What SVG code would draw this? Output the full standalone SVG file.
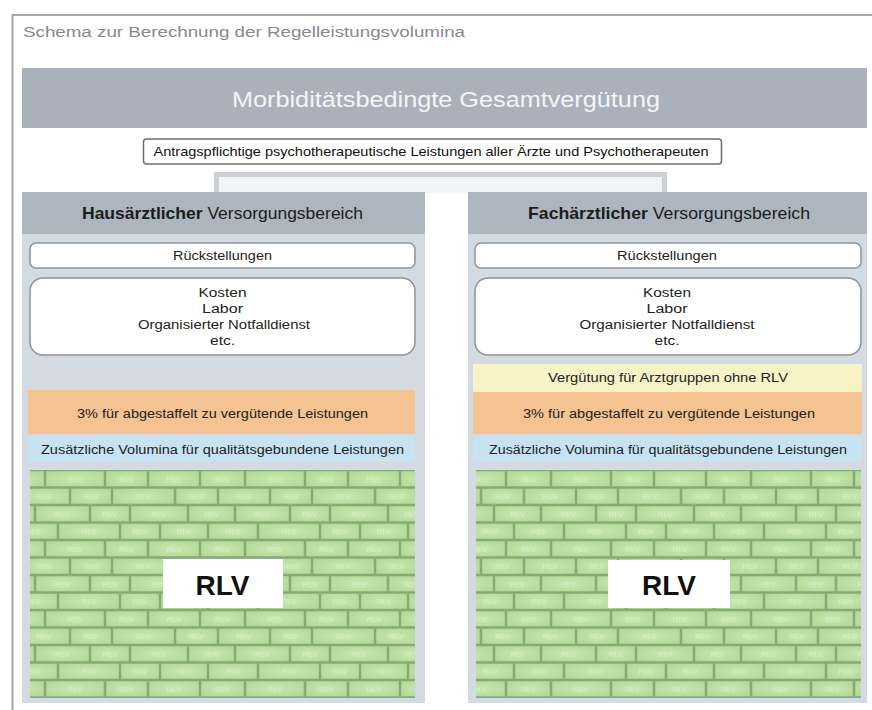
<svg xmlns="http://www.w3.org/2000/svg" xmlns:xlink="http://www.w3.org/1999/xlink" width="872" height="710" viewBox="0 0 872 710">
<style>
text { font-family: "Liberation Sans", Arial, sans-serif; }
.c { text-anchor: middle; }
.s { font-size: 12px; fill: #222; }
.hdr { font-size: 17px; fill: #1c1c1c; }
.body { fill: #d4dae1; }
.head { fill: #adb5be; }
.wbox { fill: #ffffff; stroke: #8e949b; stroke-width: 1.5; }
.orange { fill: #f5c291; }
.blue { fill: #c6e3f1; }
.yellow { fill: #f7f3c6; }
.mortar { fill: #86ab77; }
.bk { fill: url(#brickGrad); }
.bt { font-size: 8px; fill: #d7efc7; text-anchor: middle; }
.rlv { font-size: 28px; font-weight: bold; fill: #111; text-anchor: middle; }
</style>
<defs>
<radialGradient id="brickGrad" cx="0.5" cy="0.5" r="0.65">
<stop offset="0" stop-color="#c8e8b1"/>
<stop offset="1" stop-color="#b2d996"/>
</radialGradient>
<g id="tile">
<rect class="bk" x="16.25" y="1.25" width="57.5" height="15"/>
<rect class="bk" x="76.25" y="1.25" width="40.5" height="15"/>
<rect class="bk" x="119.25" y="1.25" width="49.5" height="15"/>
<rect class="bk" x="171.25" y="1.25" width="42.5" height="15"/>
<rect class="bk" x="-28.75" y="1.25" width="42.5" height="15"/>
<text class="bt" x="45" y="11.8">RLV</text>
<text class="bt" x="96.5" y="11.8">RLV</text>
<text class="bt" x="144" y="11.8">RLV</text>
<text class="bt" x="192.5" y="11.8">RLV</text>
<text class="bt" x="-7.5" y="11.8">RLV</text>
<rect class="bk" x="41.25" y="18.75" width="39.5" height="15"/>
<rect class="bk" x="83.25" y="18.75" width="60.5" height="15"/>
<rect class="bk" x="146.25" y="18.75" width="40.5" height="15"/>
<rect class="bk" x="189.25" y="18.75" width="49.5" height="15"/>
<rect class="bk" x="-10.75" y="18.75" width="49.5" height="15"/>
<text class="bt" x="61" y="29.3">RLV</text>
<text class="bt" x="113.5" y="29.3">RLV</text>
<text class="bt" x="166.5" y="29.3">RLV</text>
<text class="bt" x="214" y="29.3">RLV</text>
<text class="bt" x="14" y="29.3">RLV</text>
<rect class="bk" x="6.25" y="36.25" width="52.5" height="15"/>
<rect class="bk" x="61.25" y="36.25" width="37.5" height="15"/>
<rect class="bk" x="101.25" y="36.25" width="55.5" height="15"/>
<rect class="bk" x="159.25" y="36.25" width="44.5" height="15"/>
<rect class="bk" x="-40.75" y="36.25" width="44.5" height="15"/>
<text class="bt" x="32.5" y="46.8">RLV</text>
<text class="bt" x="80" y="46.8">RLV</text>
<text class="bt" x="129" y="46.8">RLV</text>
<text class="bt" x="181.5" y="46.8">RLV</text>
<text class="bt" x="-18.5" y="46.8">RLV</text>
<rect class="bk" x="29.25" y="53.75" width="59.5" height="15"/>
<rect class="bk" x="91.25" y="53.75" width="37.5" height="15"/>
<rect class="bk" x="131.25" y="53.75" width="45.5" height="15"/>
<rect class="bk" x="179.25" y="53.75" width="47.5" height="15"/>
<rect class="bk" x="-20.75" y="53.75" width="47.5" height="15"/>
<text class="bt" x="59" y="64.3">RLV</text>
<text class="bt" x="110" y="64.3">RLV</text>
<text class="bt" x="154" y="64.3">RLV</text>
<text class="bt" x="203" y="64.3">RLV</text>
<text class="bt" x="3" y="64.3">RLV</text>
</g>
<pattern id="bricksL" patternUnits="userSpaceOnUse" x="30" y="470" width="200" height="70">
<use href="#tile"/>
</pattern>
<pattern id="bricksR" patternUnits="userSpaceOnUse" x="536" y="470" width="200" height="70">
<use href="#tile"/>
</pattern>
</defs>

<rect x="0" y="0" width="872" height="710" fill="#ffffff"/>

<g id="frame">
<path d="M12.5 710 V15 H872" fill="none" stroke="#aca6a1" stroke-width="2"/>
<text x="23" y="37" font-size="14" fill="#868a90" textLength="442" lengthAdjust="spacingAndGlyphs">Schema zur Berechnung der Regelleistungsvolumina</text>
</g>

<g id="gesamtverguetung">
<rect x="22" y="68" width="845" height="60" fill="#aab1bb"/>
<text class="c" x="446" y="107" font-size="22" fill="#f3f5f7" textLength="428" lengthAdjust="spacingAndGlyphs">Morbiditätsbedingte Gesamtvergütung</text>
</g>

<g id="connectors">
<rect x="219" y="176" width="443" height="17" fill="#f2f3f5"/>
<path d="M216.5 193 V174.5 H664.5 V193" fill="none" stroke="#ccd0d5" stroke-width="5"/>
</g>

<g id="antrag">
<rect x="143.5" y="139" width="578" height="25" rx="3" fill="#ffffff" stroke="#6d6d6d" stroke-width="1.5"/>
<text class="c" x="431" y="156" font-size="13" fill="#111" textLength="555" lengthAdjust="spacingAndGlyphs">Antragspflichtige psychotherapeutische Leistungen aller Ärzte und Psychotherapeuten</text>
</g>

<g id="hausaerztlich">
<rect class="body" x="22" y="192" width="403" height="511"/>
<rect class="head" x="22" y="192" width="403" height="42"/>
<text class="c hdr" x="222.5" y="219" textLength="281" lengthAdjust="spacingAndGlyphs"><tspan font-weight="bold">Hausärztlicher</tspan> Versorgungsbereich</text>
</g>
<g id="haus-rueckstellungen">
<rect class="wbox" x="30" y="243" width="385" height="25" rx="6"/>
<text class="c s" x="222.5" y="260" textLength="99" lengthAdjust="spacingAndGlyphs">Rückstellungen</text>
</g>
<g id="haus-kosten">
<rect class="wbox" x="30" y="278" width="385" height="77" rx="13"/>
<text class="c s" x="222.5" y="297" textLength="48" lengthAdjust="spacingAndGlyphs">Kosten</text>
<text class="c s" x="222.5" y="313" textLength="41" lengthAdjust="spacingAndGlyphs">Labor</text>
<text class="c s" x="224" y="329" textLength="172" lengthAdjust="spacingAndGlyphs">Organisierter Notfalldienst</text>
<text class="c s" x="222.5" y="345" textLength="25" lengthAdjust="spacingAndGlyphs">etc.</text>
</g>
<g id="haus-abgestaffelt">
<rect class="orange" x="28" y="390" width="387" height="44"/>
<text class="c s" x="222.5" y="418" textLength="291" lengthAdjust="spacingAndGlyphs">3% für abgestaffelt zu vergütende Leistungen</text>
</g>
<g id="haus-qualitaet">
<rect class="blue" x="28" y="437" width="387" height="25"/>
<text class="c s" x="222.5" y="454" textLength="363" lengthAdjust="spacingAndGlyphs">Zusätzliche Volumina für qualitätsgebundene Leistungen</text>
</g>
<g id="haus-rlv">
<rect class="mortar" x="30" y="470" width="385" height="228"/>
<rect x="30" y="470" width="385" height="228" fill="url(#bricksL)"/>
<rect x="163" y="559" width="120" height="49" fill="#ffffff"/>
<text class="rlv" x="222.5" y="595">RLV</text>
</g>

<g id="fachaerztlich">
<rect class="body" x="468" y="192" width="399" height="511"/>
<rect class="head" x="468" y="192" width="399" height="42"/>
<text class="c hdr" x="669" y="219" textLength="282" lengthAdjust="spacingAndGlyphs"><tspan font-weight="bold">Fachärztlicher</tspan> Versorgungsbereich</text>
</g>
<g id="fach-rueckstellungen">
<rect class="wbox" x="475" y="243" width="386" height="25" rx="6"/>
<text class="c s" x="667" y="260" textLength="100" lengthAdjust="spacingAndGlyphs">Rückstellungen</text>
</g>
<g id="fach-kosten">
<rect class="wbox" x="475" y="278" width="386" height="77" rx="13"/>
<text class="c s" x="667" y="297" textLength="48" lengthAdjust="spacingAndGlyphs">Kosten</text>
<text class="c s" x="667" y="313" textLength="41" lengthAdjust="spacingAndGlyphs">Labor</text>
<text class="c s" x="667" y="329" textLength="175" lengthAdjust="spacingAndGlyphs">Organisierter Notfalldienst</text>
<text class="c s" x="667" y="345" textLength="25" lengthAdjust="spacingAndGlyphs">etc.</text>
</g>
<g id="fach-ohne-rlv">
<rect class="yellow" x="473" y="364" width="389" height="28"/>
<text class="c s" x="668" y="382" textLength="240" lengthAdjust="spacingAndGlyphs">Vergütung für Arztgruppen ohne RLV</text>
</g>
<g id="fach-abgestaffelt">
<rect class="orange" x="473" y="392" width="389" height="42"/>
<text class="c s" x="669" y="418" textLength="292" lengthAdjust="spacingAndGlyphs">3% für abgestaffelt zu vergütende Leistungen</text>
</g>
<g id="fach-qualitaet">
<rect class="blue" x="473" y="437" width="389" height="25"/>
<text class="c s" x="668" y="454" textLength="358" lengthAdjust="spacingAndGlyphs">Zusätzliche Volumina für qualitätsgebundene Leistungen</text>
</g>
<g id="fach-rlv">
<rect class="mortar" x="476" y="470" width="385" height="228"/>
<rect x="476" y="470" width="385" height="228" fill="url(#bricksR)"/>
<rect x="608" y="560" width="122" height="48" fill="#ffffff"/>
<text class="rlv" x="669" y="595">RLV</text>
</g>
</svg>
